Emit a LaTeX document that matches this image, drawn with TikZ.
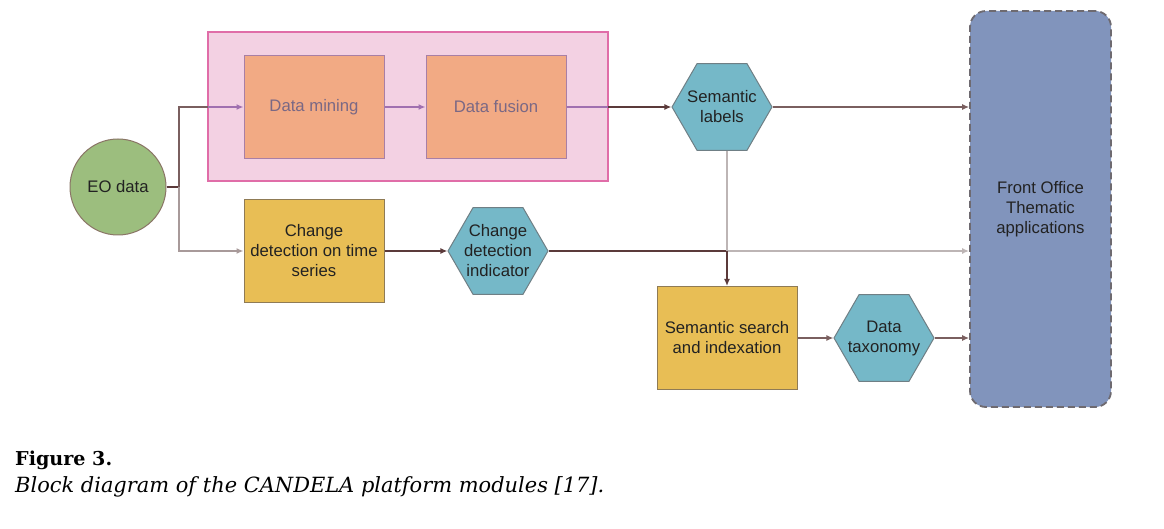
\documentclass[tikz,border=0pt]{standalone}
\usepackage{fontspec}
\usepackage{graphicx}
\setmainfont{Liberation Sans}
\newfontfamily\arialf{Liberation Sans}
\newfontfamily\capfont{DejaVu Serif}
\usetikzlibrary{shapes.geometric,arrows.meta}
\definecolor{pinkfill}{HTML}{F3D1E3}
\definecolor{pinkedge}{HTML}{E06DA8}
\definecolor{orfill}{HTML}{F2AA84}
\definecolor{oredge}{HTML}{A87FA6}
\definecolor{ortext}{HTML}{7A6884}
\definecolor{yefill}{HTML}{E8BE55}
\definecolor{yeedge}{HTML}{8F7B55}
\definecolor{hxfill}{HTML}{75B8C8}
\definecolor{hxedge}{HTML}{6F7F85}
\definecolor{grfill}{HTML}{9CBE7E}
\definecolor{gredge}{HTML}{8A7566}
\definecolor{fofill}{HTML}{8194BC}
\definecolor{foedge}{HTML}{6E6A70}
\definecolor{darkc}{HTML}{5B3A3A}
\definecolor{brownc}{HTML}{7A5F5F}
\definecolor{grayc}{HTML}{A89A9A}
\definecolor{lightc}{HTML}{BDB5B5}
\definecolor{purpc}{HTML}{A070B0}
\definecolor{textc}{HTML}{222222}
\tikzset{
  lbl/.style={font=\arialf\fontsize{16.7}{20}\selectfont, align=center, text=textc},
  pinkbox/.style={rectangle, fill=pinkfill, draw=pinkedge, line width=2.5pt, minimum width=400pt, minimum height=149pt},
  orbox/.style={lbl, rectangle, fill=orfill, draw=oredge, line width=1pt, minimum width=140pt, minimum height=103pt, text=ortext},
  yebox/.style={lbl, rectangle, fill=yefill, draw=yeedge, line width=1pt, minimum width=140pt, minimum height=103pt},
  hexa/.style={regular polygon, regular polygon sides=6, minimum size=100pt, inner sep=0pt, fill=hxfill, draw=hxedge, line width=1pt},
  eobox/.style={lbl, circle, minimum size=96pt, inner sep=0pt, fill=grfill, draw=gredge, line width=1pt},
  fobox/.style={lbl, rectangle, rounded corners=16pt, dashed, dash pattern=on 7pt off 4pt, line width=1.8pt, draw=foedge, fill=fofill, minimum width=141pt, minimum height=396pt},
  arr/.style={-{Latex[length=7pt,width=6pt]}},
  darkln/.style={draw=darkc, line width=1.6pt},
  thickln/.style={draw=darkc, line width=2.5pt},
  brownln/.style={draw=brownc, line width=1.3pt},
  grayln/.style={draw=grayc, line width=1.5pt},
  lightln/.style={draw=lightc, line width=2pt},
  purpln/.style={draw=purpc, line width=1.4pt},
}
\begin{document}
\begin{tikzpicture}[x=1pt,y=-1pt]
\useasboundingbox[fill=white] (0,0) rectangle (1164,529);
% containers
\node[pinkbox] (pink) at (408,106.5) {};
\node[fobox] (fo) at (1040.5,209) {Front Office\\Thematic\\applications};
% nodes
\node[eobox] (eo) at (118,187) {EO data};
\node[orbox] (dm) at (314,107) {Data mining};
\node[orbox] (df) at (496,107) {Data fusion};
\node[hexa, label={[lbl]center:Semantic\\labels}] (sl) at (722,107) {};
\node[yebox] (cd) at (314,251) {Change\\detection on time\\series};
\node[hexa, label={[lbl]center:Change\\detection\\indicator}] (ci) at (498,251) {};
\node[yebox] (ss) at (727,338) {Semantic search\\and indexation};
\node[hexa, label={[lbl]center:Data\\taxonomy}] (dt) at (884,338) {};
% junction coordinates
\coordinate (j0) at (179,187);
\coordinate (pin) at (208,107);
\coordinate (pout) at (608,107);
\coordinate (jx) at (727,251);
% connectors
\draw[darkln] (eo.east) -- (j0);
\draw[brownln] (j0) |- (pin);
\draw[purpln,arr] (pin) -- (dm.west);
\draw[purpln,arr] (dm) -- (df);
\draw[purpln] (df.east) -- (pout);
\draw[darkln,arr] (pout) -- (sl.west);
\draw[brownln,arr] (sl.east) -- (sl.east -| fo.west);
\draw[grayln,arr] (j0) |- (cd.west);
\draw[thickln,arr] (cd) -- (ci);
\draw[thickln] (ci.east) -- (jx);
\draw[lightln] (sl.south -| jx) -- (jx);
\draw[lightln,arr] (jx) -- (jx -| fo.west);
\draw[thickln,arr] (jx) -- (ss.north);
\draw[brownln,arr] (ss) -- (dt);
\draw[brownln,arr] (dt) -- (dt -| fo.west);
% caption
\node[anchor=base west, inner sep=0pt] (figlabel) at (15,465) {\resizebox{97pt}{!}{\capfont\bfseries Figure 3.}};
\node[anchor=base west, inner sep=0pt] (figcap) at (15,492) {\resizebox{589pt}{!}{\capfont\itshape Block diagram of the CANDELA platform modules [17].}};
\end{tikzpicture}
\end{document}
